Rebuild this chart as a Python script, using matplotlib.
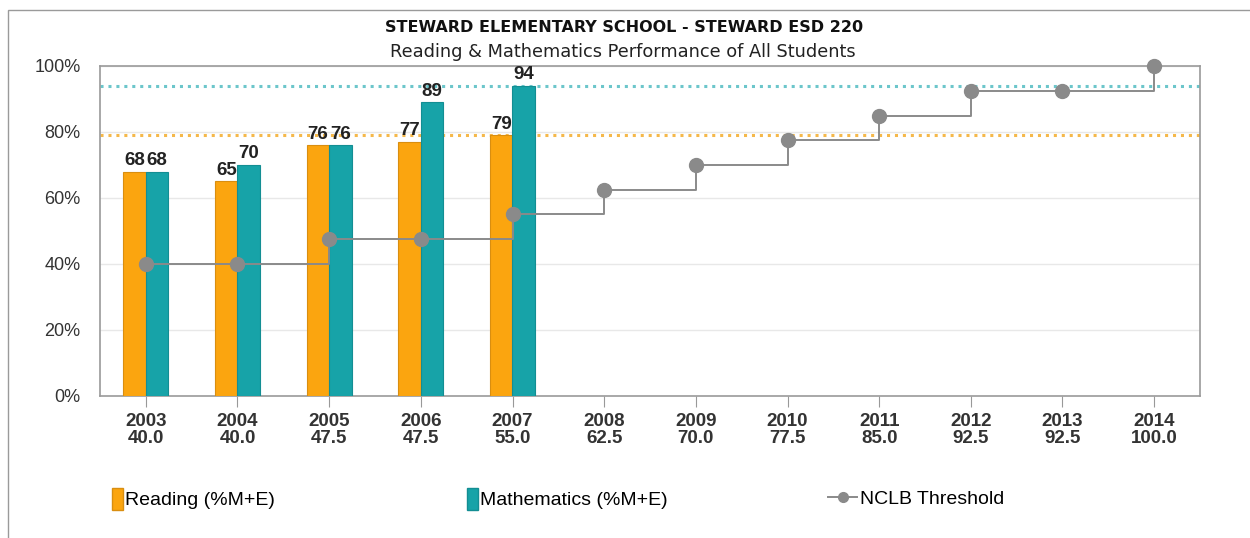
import matplotlib
matplotlib.use("Agg")
import matplotlib.pyplot as plt
from matplotlib.patches import Rectangle, Patch
from matplotlib.lines import Line2D
import numpy as np

years = ["2003", "2004", "2005", "2006", "2007", "2008", "2009", "2010", "2011", "2012", "2013", "2014"]
threshold = [40.0, 40.0, 47.5, 47.5, 55.0, 62.5, 70.0, 77.5, 85.0, 92.5, 92.5, 100.0]
reading = [68, 65, 76, 77, 79]
math = [68, 70, 76, 89, 94]
reading_target = 79
math_target = 94
yticks = [0, 20, 40, 60, 80, 100]

ORANGE = "#FBA50F"
ORANGE_EDGE = "#D98E10"
TEAL = "#17A3A8"
TEAL_EDGE = "#138E93"
GRAY = "#8A8A8A"

narrow = ["Liberation Sans Narrow", "Liberation Sans", "DejaVu Sans"]

fig = plt.figure(figsize=(12.5, 5.38), dpi=100)
ax = fig.add_axes([100/1250, 1-396/538, 1100/1250, 330/538])

x = np.arange(len(years))
xr = np.arange(len(reading))
w = 0.245
ax.bar(xr - w/2, reading, width=w, color=ORANGE, edgecolor=ORANGE_EDGE, linewidth=0.8, zorder=3)
ax.bar(xr + w/2, math, width=w, color=TEAL, edgecolor=TEAL_EDGE, linewidth=0.8, zorder=3)

for i, v in enumerate(reading):
    ax.text(i - w/2, v + 0.8, str(v), ha="center", va="bottom", fontsize=13.5,
            fontweight="bold", family=narrow, color="#222222", zorder=5)
for i, v in enumerate(math):
    ax.text(i + w/2, v + 0.8, str(v), ha="center", va="bottom", fontsize=13.5,
            fontweight="bold", family=narrow, color="#222222", zorder=5)

ax.axhline(math_target, color="#6CC6CB", linestyle=(0, (1, 1.6)), linewidth=2.2, zorder=2)
ax.axhline(reading_target, color="#F5B84A", linestyle=(0, (1, 1.6)), linewidth=2.2, zorder=2)

ax.plot(x, threshold, drawstyle="steps-post", color=GRAY, linewidth=1.4,
        marker="o", markersize=10, markerfacecolor=GRAY, markeredgecolor=GRAY, zorder=4,
        clip_on=False)

ax.set_xlim(-0.5, len(years) - 0.5)
ax.set_ylim(0, 100)
ax.set_yticks(yticks)
ax.set_yticklabels([f"{t}%" for t in yticks], family=narrow, fontsize=13, color="#333333")
ax.tick_params(axis="y", length=0, pad=14)
ax.set_xticks(x)
ax.set_xticklabels([f"{y}\n{t:.1f}" for y, t in zip(years, threshold)], family=narrow,
                   fontsize=13.5, fontweight="bold", color="#333333", linespacing=1.05)
ax.tick_params(axis="x", length=8, color="#999999", pad=4)
ax.grid(axis="y", color="#E8E8E8", linewidth=1.0, zorder=0)
ax.set_axisbelow(True)
for s in ax.spines.values():
    s.set_color("#9A9A9A")
    s.set_linewidth(1.2)

fig.text(624/1250, 1-27/538, "STEWARD ELEMENTARY SCHOOL - STEWARD ESD 220", ha="center", va="center",
         fontsize=11.5, fontweight="bold", family="DejaVu Sans", color="#111111")
fig.text(623/1250, 1-52/538, "Reading & Mathematics Performance of All Students", ha="center", va="center",
         fontsize=12.8, family="DejaVu Sans", color="#222222")

# outer border
fig.patches.append(Rectangle((8/1250, -0.1), 1.2, 1 - 10/538 + 0.1, transform=fig.transFigure,
                             fill=False, edgecolor="#9A9A9A", linewidth=1.0))

prop = {"family": narrow, "size": 14}
common = dict(frameon=False, handletextpad=0.12, borderpad=0, borderaxespad=0, prop=prop)
fig.legend([Patch(facecolor=ORANGE, edgecolor=ORANGE_EDGE)], ["Reading (%M+E)"],
           loc="center left", bbox_to_anchor=(112/1250, 1-499/538),
           handlelength=0.55, handleheight=1.4, **common)
fig.legend([Patch(facecolor=TEAL, edgecolor=TEAL_EDGE)], ["Mathematics (%M+E)"],
           loc="center left", bbox_to_anchor=(467/1250, 1-499/538),
           handlelength=0.55, handleheight=1.4, **common)
fig.legend([Line2D([0], [0], color=GRAY, marker="o", markersize=7, linewidth=1.4)], ["NCLB Threshold"],
           loc="center left", bbox_to_anchor=(828/1250, 1-499/538),
           handlelength=1.5, **common)

fig.savefig("out.png", dpi=100)
